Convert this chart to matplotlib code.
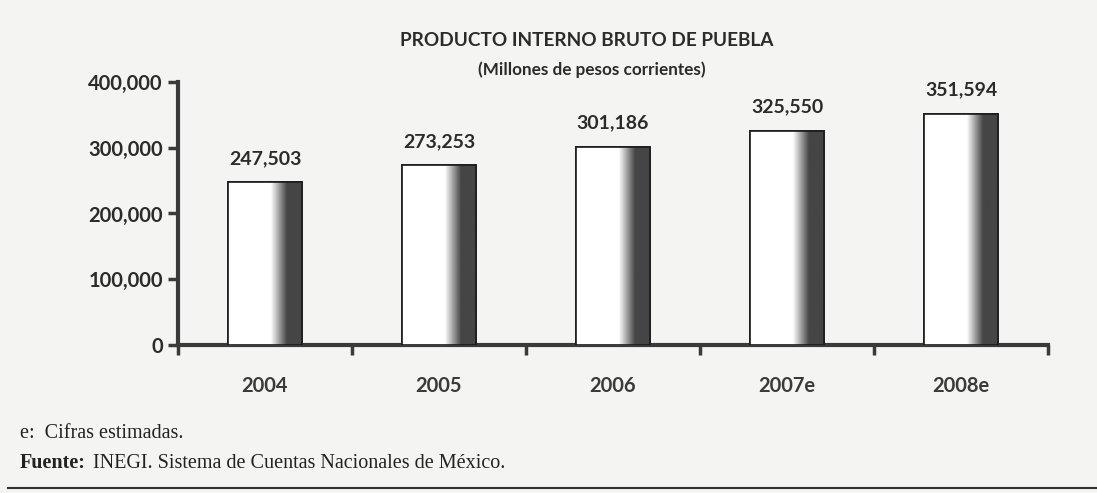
import matplotlib
matplotlib.use("Agg")
import matplotlib.pyplot as plt
import numpy as np

years = ["2004", "2005", "2006", "2007e", "2008e"]
pib = [247503, 273253, 301186, 325550, 351594]
y_ticks = [0, 100000, 200000, 300000, 400000]

title = "PRODUCTO INTERNO BRUTO DE PUEBLA"
subtitle = "(Millones de pesos corrientes)"
note_e = "e:  Cifras estimadas."
note_src = "INEGI. Sistema de Cuentas Nacionales de México."

ink = "#2b2b2b"
paper = "#f4f4f2"
font = ["Lato", "DejaVu Sans"]

fig = plt.figure(figsize=(10.97, 4.93), dpi=100, facecolor=paper)
ax = fig.add_axes([178 / 1097, 1 - 345 / 493, 870 / 1097, 263 / 493])
ax.set_facecolor(paper)

x = np.arange(len(years))
bar_w = 0.42

# horizontal gradient: white on the left, dark band on the right
t = np.linspace(0, 1, 200)
shade = np.interp(t, [0, 0.58, 0.80, 1.0], [1.0, 1.0, 0.27, 0.27])
grad = np.tile(shade, (2, 1))

bars = ax.bar(x, pib, width=bar_w, color="white", edgecolor="#1a1a1a",
              linewidth=1.2, zorder=2)
for b in bars:
    x0, w, h = b.get_x(), b.get_width(), b.get_height()
    im = ax.imshow(grad, cmap="gray", vmin=0, vmax=1, aspect="auto",
                   extent=(x0, x0 + w, 0, h), interpolation="bilinear", zorder=3)
    im.set_clip_path(b)
    ax.bar(b.get_x() + w / 2, h, width=w, fill=False, edgecolor="#1a1a1a",
           linewidth=1.2, zorder=4)
    ax.text(b.get_x() + w / 2, h + 36500, f"{h:,.0f}", ha="center", va="center",
            fontsize=14, fontweight="bold", color=ink, family=font)

ax.set_xlim(-0.5, len(years) - 0.5)
ax.set_ylim(0, 400000)
ax.set_yticks(y_ticks)
ax.set_yticklabels([f"{v:,}" for v in y_ticks], fontsize=14.5, fontweight="bold",
                   color=ink, family=font)
ax.tick_params(axis="y", direction="out", length=7, width=2.5, color="#3a3a3a", pad=4)

ax.set_xticks(x)
ax.set_xticklabels(years, fontsize=14.5, fontweight="bold", color="#3a3a3a", family=font)
ax.tick_params(axis="x", length=0, pad=22)
ax.set_xticks(np.arange(-0.5, len(years)), minor=True)
ax.tick_params(axis="x", which="minor", direction="out", length=7, width=2.5,
               color="#3a3a3a")

for side in ["top", "right"]:
    ax.spines[side].set_visible(False)
for side in ["left", "bottom"]:
    ax.spines[side].set_linewidth(3)
    ax.spines[side].set_color("#3a3a3a")

fig.text(587 / 1097, 1 - 41 / 493, title, ha="center", va="center", fontsize=13.7,
         fontweight="bold", color=ink, family=font)
fig.text(592 / 1097, 1 - 70 / 493, subtitle, ha="center", va="center", fontsize=12.3,
         fontweight="bold", color=ink, family=font)

fig.text(20 / 1097, 1 - 434 / 493, note_e, ha="left", va="center", fontsize=14.5,
         color="#222222", family="Liberation Serif")
fig.text(20 / 1097, 1 - 463 / 493, "Fuente:", ha="left", va="center", fontsize=14.5,
         fontweight="bold", color="#222222", family="Liberation Serif")
fig.text(93 / 1097, 1 - 463 / 493, note_src, ha="left", va="center", fontsize=14.5,
         color="#222222", family="Liberation Serif")
fig.add_artist(plt.Line2D([8 / 1097, 1], [1 - 488 / 493] * 2, color="#333333",
                          linewidth=1.5, transform=fig.transFigure))

fig.savefig("out.png", dpi=100, facecolor=paper)
